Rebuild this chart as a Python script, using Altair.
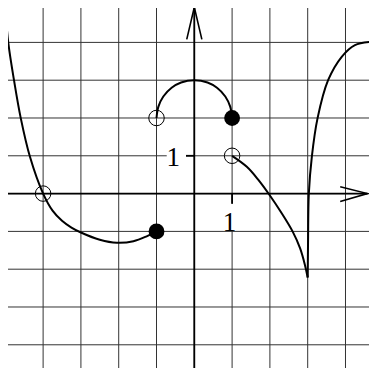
import altair as alt
import pandas as pd

# Curve pieces (graph units)
a_x = [-5.01, -4.92, -4.77, -4.59, -4.35, -4.0, -3.75, -3.5, -3.25, -3.0, -2.5, -2.05, -1.61, -1.26, -1.0]
a_y = [4.99, 3.98, 3.0, 1.99, 0.98, 0.0, -0.45, -0.72, -0.9, -1.03, -1.22, -1.3, -1.26, -1.13, -1.0]

b_x = [-1.0, -0.95, -0.82, -0.6, -0.35, 0.0, 0.35, 0.6, 0.82, 0.95, 1.0]
b_y = [2.0, 2.3, 2.57, 2.8, 2.94, 3.0, 2.94, 2.8, 2.57, 2.3, 2.0]

c_x = [1.0, 1.39, 1.69, 2.0, 2.3, 2.6, 2.8, 2.93, 3.0]
c_y = [1.0, 0.71, 0.37, -0.05, -0.5, -1.0, -1.45, -1.9, -2.22]

d_x = [3.0, 3.01, 3.03, 3.11, 3.26, 3.54, 3.9, 4.25, 4.69, 4.85]
d_y = [-2.22, -1.23, 0.0, 0.98, 1.99, 3.0, 3.62, 3.93, 4.02, 4.02]

open_x = [-4, -1, 1]
open_y = [0, 2, 1]
filled_x = [-1, 1]
filled_y = [-1, 2]

grid_vals = [-4, -3, -2, -1, 0, 1, 2, 3, 4]
tick_labels = ["1", "1"]

XD = [-4.929, 4.622]
YD = [-4.614, 4.910]
xs = alt.Scale(domain=XD, nice=False, zero=False)
ys = alt.Scale(domain=YD, nice=False, zero=False)
noax = None

def piece(name, xv, yv):
    return pd.DataFrame({"x": xv, "y": yv, "piece": name, "o": list(range(len(xv)))})

curves = pd.concat([piece("a", a_x, a_y), piece("b", b_x, b_y),
                    piece("c", c_x, c_y), piece("d", d_x, d_y)])

grid_df = pd.DataFrame({"v": grid_vals})
vgrid = alt.Chart(grid_df).mark_rule(color="#333333", strokeWidth=1).encode(
    x=alt.X("v:Q", scale=xs, axis=noax))
hgrid = alt.Chart(grid_df).mark_rule(color="#333333", strokeWidth=1).encode(
    y=alt.Y("v:Q", scale=ys, axis=noax))

# label background boxes
box_df = pd.DataFrame({"x1": [-0.73, 0.75], "x2": [-0.22, 1.1],
                       "y1": [0.75, -0.27], "y2": [1.25, -0.97]})
boxes = alt.Chart(box_df).mark_rect(color="white").encode(
    x=alt.X("x1:Q", scale=xs, axis=noax), x2="x2:Q",
    y=alt.Y("y1:Q", scale=ys, axis=noax), y2="y2:Q")

# axes
axes_df = pd.DataFrame({"x1": [XD[0], 0.0], "x2": [4.58, 0.0],
                        "y1": [0.0, YD[0]], "y2": [0.0, 4.93]})
axes = alt.Chart(axes_df).mark_rule(color="black", strokeWidth=1.8, clip=True).encode(
    x=alt.X("x1:Q", scale=xs, axis=noax), x2="x2:Q",
    y=alt.Y("y1:Q", scale=ys, axis=noax), y2="y2:Q")

ticks_df = pd.DataFrame({"x1": [1.0, -0.22], "x2": [1.0, 0.0],
                         "y1": [0.0, 1.0], "y2": [-0.27, 1.0]})
ticks = alt.Chart(ticks_df).mark_rule(color="black", strokeWidth=1.8).encode(
    x=alt.X("x1:Q", scale=xs, axis=noax), x2="x2:Q",
    y=alt.Y("y1:Q", scale=ys, axis=noax), y2="y2:Q")

arrow_df = pd.DataFrame({
    "x": [-0.2, 0.0, 0.2, 3.86, 4.58, 3.86],
    "y": [4.08, 4.93, 4.08, 0.18, 0.0, -0.21],
    "g": ["ya", "ya", "ya", "xa", "xa", "xa"],
    "o": [0, 1, 2, 0, 1, 2]})
arrows = alt.Chart(arrow_df).mark_line(color="black", strokeWidth=1.6, clip=True).encode(
    x=alt.X("x:Q", scale=xs, axis=noax), y=alt.Y("y:Q", scale=ys, axis=noax),
    detail="g:N", order="o:Q")

lines = alt.Chart(curves).mark_line(color="black", strokeWidth=2, interpolate="catmull-rom", clip=True).encode(
    x=alt.X("x:Q", scale=xs, axis=noax), y=alt.Y("y:Q", scale=ys, axis=noax),
    detail="piece:N", order="o:Q")

open_pts = alt.Chart(pd.DataFrame({"x": open_x, "y": open_y})).mark_point(
    shape="circle", size=240, filled=False, color="black", strokeWidth=1, opacity=1).encode(
    x=alt.X("x:Q", scale=xs, axis=noax), y=alt.Y("y:Q", scale=ys, axis=noax))

filled_pts = alt.Chart(pd.DataFrame({"x": filled_x, "y": filled_y})).mark_point(
    shape="circle", size=250, filled=True, color="black", opacity=1).encode(
    x=alt.X("x:Q", scale=xs, axis=noax), y=alt.Y("y:Q", scale=ys, axis=noax))

label_df = pd.DataFrame({"x": [-0.56, 0.93], "y": [0.73, -1.0], "t": tick_labels})
labels = alt.Chart(label_df).mark_text(
    font="Liberation Serif", fontSize=27, color="black", align="center", baseline="alphabetic").encode(
    x=alt.X("x:Q", scale=xs, axis=noax), y=alt.Y("y:Q", scale=ys, axis=noax), text="t:N")

chart = alt.layer(vgrid, hgrid, boxes, axes, ticks, arrows, lines, open_pts, filled_pts, labels).properties(
    width=361, height=360, padding=0, autosize="none", background="white"
).configure_view(stroke=None)

chart.save("out.html", embed_options={"renderer": "svg", "actions": False})
